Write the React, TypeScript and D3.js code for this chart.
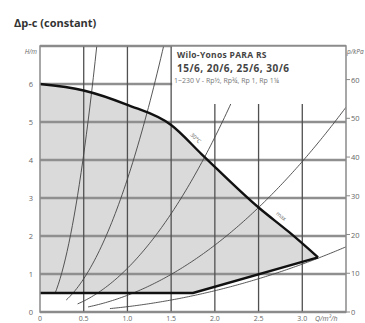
import React from "react";
import * as d3 from "d3";

const title = "Δp-c (constant)";
const legendLines = ["Wilo-Yonos PARA RS", "15/6, 20/6, 25/6, 30/6", "1~230 V - Rp½, Rp¾, Rp 1, Rp 1¼"];
const xTicks = [0, 0.5, 1.0, 1.5, 2.0, 2.5, 3.0];
const xTickLabels = ["0", "0.5", "1.0", "1.5", "2.0", "2.5", "3.0"];
const yTicks = [0, 1, 2, 3, 4, 5, 6];
const kpaTicks = [0, 10, 20, 30, 40, 50, 60];
const maxQ = [0, 0.5, 1.0, 1.5, 1.85, 2.5, 2.85, 3.18];
const maxH = [6.0, 5.83, 5.45, 4.92, 4.15, 2.75, 2.1, 1.44];
const minQ = [0, 1.75, 3.18];
const minH = [0.5, 0.5, 1.44];
const sysK = [16.6, 3.5, 1.15, 0.44, 0.14];
const sysStart = [0.17, 0.3, 0.43, 0.55, 0.8];
const curveLabels = ["30°C", "max"];
const curveLabelQ = [1.72, 2.7];

const W = 365, H = 323;
const L = 40, R = 346, T = 46, B = 312;

export default function App() {
  const x = d3.scaleLinear().domain([0, 3.5]).range([L, R]);
  const y = d3.scaleLinear().domain([0, 7]).range([B, T]);
  const yk = (p: number) => y(p / 9.81);

  const maxPts: [number, number][] = maxQ.map((q, i) => [q, maxH[i]]);
  const minPts: [number, number][] = minQ.map((q, i) => [q, minH[i]]);
  const lineMax = d3.line<[number, number]>().x(d => x(d[0])).y(d => y(d[1])).curve(d3.curveMonotoneX);
  const lineMin = d3.line<[number, number]>().x(d => x(d[0])).y(d => y(d[1]));
  const areaPath = lineMax(maxPts) + "L" + minPts.slice().reverse().map(d => `${x(d[0])},${y(d[1])}`).join("L") + "Z";

  const sysPaths = sysK.map((k, i) => {
    const qEnd = Math.min(3.5, Math.sqrt(7 / k));
    const pts: [number, number][] = d3.range(sysStart[i], qEnd + 0.0001, 0.02).map(q => [q, k * q * q]);
    pts.push([qEnd, k * qEnd * qEnd]);
    return d3.line<[number, number]>().x(d => x(d[0])).y(d => y(d[1]))(pts) as string;
  });

  const interpMax = (q: number) => {
    for (let i = 0; i < maxQ.length - 1; i++) {
      if (q >= maxQ[i] && q <= maxQ[i + 1]) {
        const t = (q - maxQ[i]) / (maxQ[i + 1] - maxQ[i]);
        return { h: maxH[i] + t * (maxH[i + 1] - maxH[i]), i };
      }
    }
    return { h: 0, i: 0 };
  };

  const font = "'Open Sans', 'DejaVu Sans', sans-serif";

  return (
    <svg width={W} height={H} style={{ position: "absolute", left: 0, top: 0, background: "#fff" }} fontFamily={font}>
      <defs>
        <clipPath id="plot">
          <rect x={L} y={T} width={R - L} height={B - T} />
        </clipPath>
      </defs>
      <text x={14} y={27} fontSize={11} fontWeight="bold" fill="#333">{title}</text>

      <path d={areaPath} fill="#dadada" />

      {yTicks.concat([7]).map(t => (
        <line key={"hy" + t} x1={L} x2={R} y1={y(t)} y2={y(t)} stroke="#8f8f8f" strokeWidth={2.5} />
      ))}
      {xTicks.slice(1).map(t => (
        <line key={"vx" + t} x1={x(t)} x2={x(t)} y1={T} y2={B} stroke="#505050" strokeWidth={1.3} />
      ))}

      <g clipPath="url(#plot)">
        {sysPaths.map((p, i) => (
          <path key={"s" + i} d={p} fill="none" stroke="#444" strokeWidth={0.9} />
        ))}
      </g>

      <path d={lineMax(maxPts) as string} fill="none" stroke="#111" strokeWidth={2.4} />
      <path d={lineMin(minPts) as string} fill="none" stroke="#111" strokeWidth={2.4} />

      {curveLabels.map((s, j) => {
        const q = curveLabelQ[j];
        const { h, i } = interpMax(q);
        const ang = Math.atan2(y(maxH[i + 1]) - y(maxH[i]), x(maxQ[i + 1]) - x(maxQ[i])) * 180 / Math.PI;
        return (
          <text key={"cl" + j} transform={`translate(${x(q) + 4},${y(h) - 4}) rotate(${ang})`} fontSize={5.5} fill="#666" textAnchor="middle">{s}</text>
        );
      })}

      <rect x={x(1.5) + 1} y={T} width={R - x(1.5) - 1} height={58} fill="#fff" />
      <text x={177} y={58} fontSize={8.5} fontWeight="bold" fill="#444" letterSpacing={0.3}>{legendLines[0]}</text>
      <text x={177} y={72} fontSize={10} fontWeight="bold" fill="#444" letterSpacing={0.5}>{legendLines[1]}</text>
      <text x={174} y={83} fontSize={7} fill="#777">{legendLines[2]}</text>

      <rect x={L} y={T} width={R - L} height={B - T} fill="none" stroke="#8a8a8a" strokeWidth={1.5} />

      {yTicks.map(t => (
        <text key={"yl" + t} x={33} y={y(t) + 3} fontSize={7.5} fill="#666" textAnchor="end">{t}</text>
      ))}
      <text x={37} y={54} fontSize={6.5} fill="#666" textAnchor="end" fontStyle="italic">H/m</text>

      {kpaTicks.map(t => (
        <g key={"kp" + t}>
          <line x1={R} x2={R + 4} y1={yk(t)} y2={yk(t)} stroke="#8a8a8a" strokeWidth={1} />
          <text x={R + 5} y={yk(t) + 3} fontSize={7.5} fill="#666">{t}</text>
        </g>
      ))}
      <text x={347} y={54} fontSize={6.5} fill="#666" fontStyle="italic">p/kPa</text>

      {xTicks.map((t, i) => (
        <text key={"xl" + t} x={x(t)} y={321} fontSize={7} fill="#666" textAnchor="middle">{xTickLabels[i]}</text>
      ))}
      <text x={315} y={321} fontSize={7} fill="#666" fontStyle="italic">Q/m³/h</text>
    </svg>
  );
}
